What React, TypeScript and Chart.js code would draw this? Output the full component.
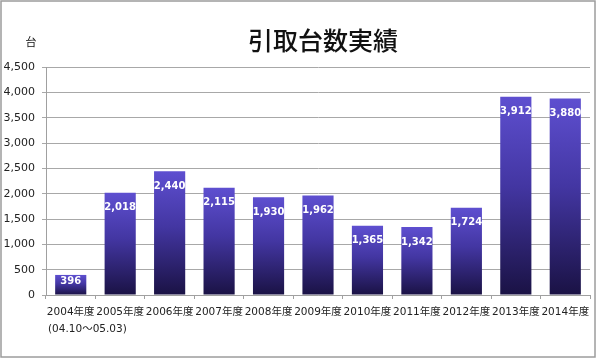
import React, { useEffect, useRef } from "react";
import { Chart, registerables } from "chart.js";

Chart.register(...registerables);

const title = "引取台数実績";
const unitLabel = "台";
const categories: (string | string[])[] = [
  ["2004年度", "          (04.10～05.03)"],
  "2005年度",
  "2006年度",
  "2007年度",
  "2008年度",
  "2009年度",
  "2010年度",
  "2011年度",
  "2012年度",
  "2013年度",
  "2014年度",
];
const values = [396, 2018, 2440, 2115, 1930, 1962, 1365, 1342, 1724, 3912, 3880];
const yTicks = [0, 500, 1000, 1500, 2000, 2500, 3000, 3500, 4000, 4500];

const FONT = "'DejaVu Sans', 'Noto Sans CJK JP', sans-serif";
const fmt = (v: number) => v.toLocaleString("en-US");

const decor = {
  id: "decor",
  beforeDraw(chart: any) {
    const c = chart.ctx as CanvasRenderingContext2D;
    c.save();
    c.fillStyle = "#ffffff";
    c.fillRect(0, 0, chart.width, chart.height);
    c.strokeStyle = "#9c9c9c";
    c.lineWidth = 1.5;
    c.strokeRect(1, 1, 594, 356);
    c.fillStyle = "#111";
    c.textAlign = "center";
    c.textBaseline = "middle";
    c.font = "500 25px 'Noto Sans CJK JP', sans-serif";
    c.fillText(title, 323, 40);
    c.font = "11px 'Noto Sans CJK JP', sans-serif";
    c.fillText(unitLabel, 31, 42);
    c.restore();
  },
  afterDatasetsDraw(chart: any) {
    const c = chart.ctx as CanvasRenderingContext2D;
    const meta = chart.getDatasetMeta(0);
    c.save();
    c.fillStyle = "#ffffff";
    c.textAlign = "center";
    c.textBaseline = "middle";
    c.font = "bold 10px " + FONT;
    meta.data.forEach((bar: any, i: number) => {
      const p = bar.getProps(["x", "y", "base"], true);
      const h = p.base - p.y;
      c.fillText(fmt(values[i]), p.x, p.y + Math.min(15, h / 3));
    });
    c.restore();
  },
};

export default function App() {
  const ref = useRef<HTMLCanvasElement>(null);
  useEffect(() => {
    document.body.style.margin = "0";
    const canvas = ref.current!;
    const chart = new Chart(canvas, {
      type: "bar",
      data: {
        labels: categories as any,
        datasets: [
          {
            data: values,
            barPercentage: 0.63,
            categoryPercentage: 1,
            borderWidth: 0,
            backgroundColor: (ctx: any) => {
              const ch = ctx.chart;
              const ys = ch.scales?.y;
              if (!ch.chartArea || !ys || ctx.type !== "data") return "#3e3195";
              const top = ys.getPixelForValue(ctx.raw as number);
              const bot = ys.getPixelForValue(0);
              if (!isFinite(top) || !isFinite(bot) || top === bot) return "#3e3195";
              const g = ch.ctx.createLinearGradient(0, top, 0, bot);
              g.addColorStop(0, "#5e4fd0");
              g.addColorStop(0.45, "#4336a2");
              g.addColorStop(1, "#1a1244");
              return g;
            },
          },
        ],
      },
      options: {
        responsive: false,
        animation: false,
        layout: { padding: { top: 67, right: 10, left: 0, bottom: 0 } },
        plugins: {
          legend: { display: false },
          title: { display: false },
          tooltip: { enabled: false },
        },
        scales: {
          x: {
            offset: true,
            border: { color: "#a0a0a0", width: 1 },
            grid: {
              offset: true,
              drawOnChartArea: false,
              drawTicks: true,
              tickLength: 4,
              color: "#a0a0a0",
            },
            ticks: {
              autoSkip: false,
              maxRotation: 0,
              minRotation: 0,
              padding: 5,
              color: "#222",
              font: { family: FONT, size: 10.5, lineHeight: 1.6 },
            },
            afterFit: (s: any) => {
              s.height = 64;
            },
          },
          y: {
            min: 0,
            max: 4500,
            border: { color: "#a0a0a0", width: 1 },
            grid: { color: "#a8a8a8", tickLength: 4, drawTicks: true },
            afterBuildTicks: (s: any) => {
              s.ticks = yTicks.map((v) => ({ value: v }));
            },
            ticks: {
              padding: 7,
              color: "#222",
              font: { family: FONT, size: 11 },
              callback: (v: any) => fmt(Number(v)),
            },
            afterFit: (s: any) => {
              s.width = 46;
            },
          },
        },
      },
      plugins: [decor],
    });
    return () => chart.destroy();
  }, []);
  return <canvas ref={ref} width={600} height={359} style={{ display: "block" }} />;
}
